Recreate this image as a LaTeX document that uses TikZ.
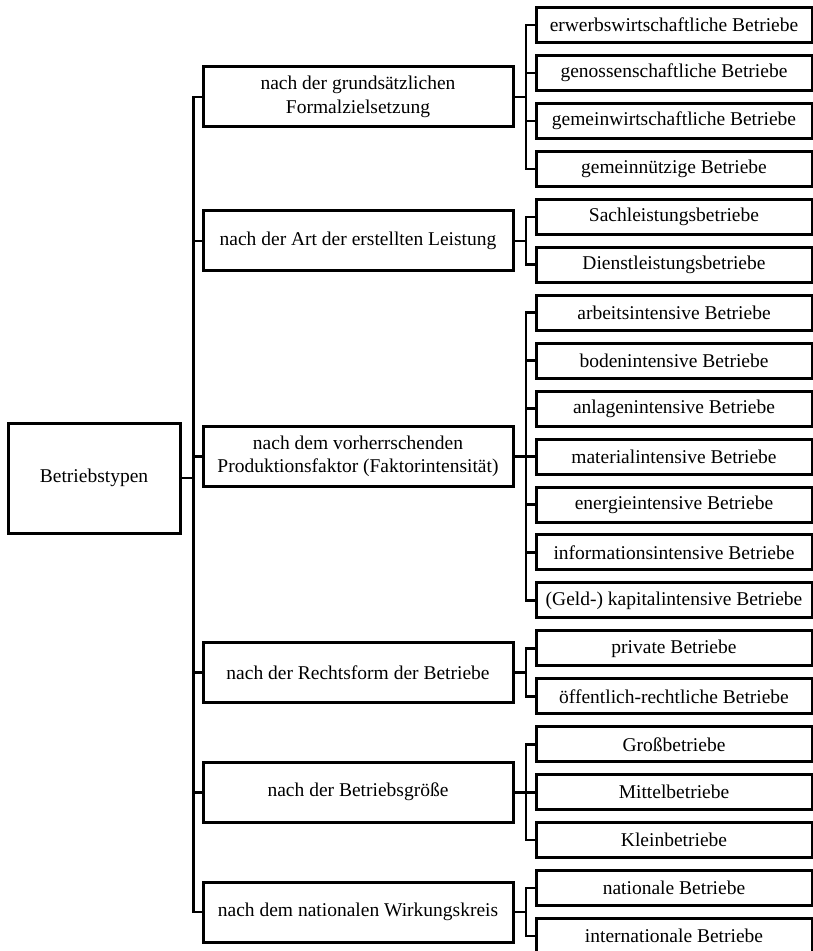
\documentclass[tikz,border=0pt]{standalone}
\usepackage{fontspec}
\setmainfont{Liberation Serif}
\begin{document}
\begin{tikzpicture}[x=1pt,y=-1pt,
  every node/.style={font=\fontsize{19.5}{23.5}\selectfont},
  rootbox/.style={draw,line width=3pt,inner sep=0pt,minimum width=172pt,minimum height=110pt},
  catbox/.style={draw,line width=3pt,inner sep=0pt,minimum width=310pt,minimum height=60pt,align=center},
  typebox/.style={draw,line width=3pt,inner sep=0pt,minimum width=276pt,minimum height=35pt},
  link/.style={line width=2.6pt}]
\clip (0,0) rectangle (813,951);

% root
\node[rootbox] (root) at (94,478) {Betriebstypen};

% categories
\node[catbox] (m1) at (358,96.9)   {nach der grundsätzlichen\\Formalzielsetzung};
\node[catbox] (m2) at (358,240.8)  {nach der Art der erstellten Leistung};
\node[catbox] (m3) at (358,456.55) {nach dem vorherrschenden\\Produktionsfaktor (Faktorintensität)};
\node[catbox] (m4) at (358,672.3)  {nach der Rechtsform der Betriebe};
\node[catbox] (m5) at (358,792.2)  {nach der Betriebsgröße};
\node[catbox] (m6) at (358,912.1)  {nach dem nationalen Wirkungskreis};

% types
\node[typebox] (c1)  at (674,25.0)   {erwerbswirtschaftliche Betriebe};
\node[typebox] (c2)  at (674,72.95)  {genossenschaftliche Betriebe};
\node[typebox] (c3)  at (674,120.9)  {gemeinwirtschaftliche Betriebe};
\node[typebox] (c4)  at (674,168.85) {gemeinnützige Betriebe};
\node[typebox] (c5)  at (674,216.8)  {Sachleistungsbetriebe};
\node[typebox] (c6)  at (674,264.75) {Dienstleistungsbetriebe};
\node[typebox] (c7)  at (674,312.7)  {arbeitsintensive Betriebe};
\node[typebox] (c8)  at (674,360.65) {bodenintensive Betriebe};
\node[typebox] (c9)  at (674,408.6)  {anlagenintensive Betriebe};
\node[typebox] (c10) at (674,456.55) {materialintensive Betriebe};
\node[typebox] (c11) at (674,504.5)  {energieintensive Betriebe};
\node[typebox] (c12) at (674,552.45) {informationsintensive Betriebe};
\node[typebox] (c13) at (674,600.4)  {(Geld-) kapitalintensive Betriebe};
\node[typebox] (c14) at (674,648.35) {private Betriebe};
\node[typebox] (c15) at (674,696.3)  {öffentlich-rechtliche Betriebe};
\node[typebox] (c16) at (674,744.25) {Großbetriebe};
\node[typebox] (c17) at (674,792.2)  {Mittelbetriebe};
\node[typebox] (c18) at (674,840.15) {Kleinbetriebe};
\node[typebox] (c19) at (674,888.1)  {nationale Betriebe};
\node[typebox] (c20) at (674,936.05) {internationale Betriebe};

% trunk from root to categories
\foreach \m in {m1,m2,m3,m4,m5,m6}
  \draw[link] (root.east) -- ++(12,0) |- (\m.west);

% brackets from categories to types
\foreach \m/\list in {m1/{c1,c2,c3,c4}, m2/{c5,c6}, m3/{c7,c8,c9,c10,c11,c12,c13},
                      m4/{c14,c15}, m5/{c16,c17,c18}, m6/{c19,c20}}
  \foreach \c in \list
    \draw[link] (\m.east) -- ++(11.5,0) |- (\c.west);
\end{tikzpicture}
\end{document}
